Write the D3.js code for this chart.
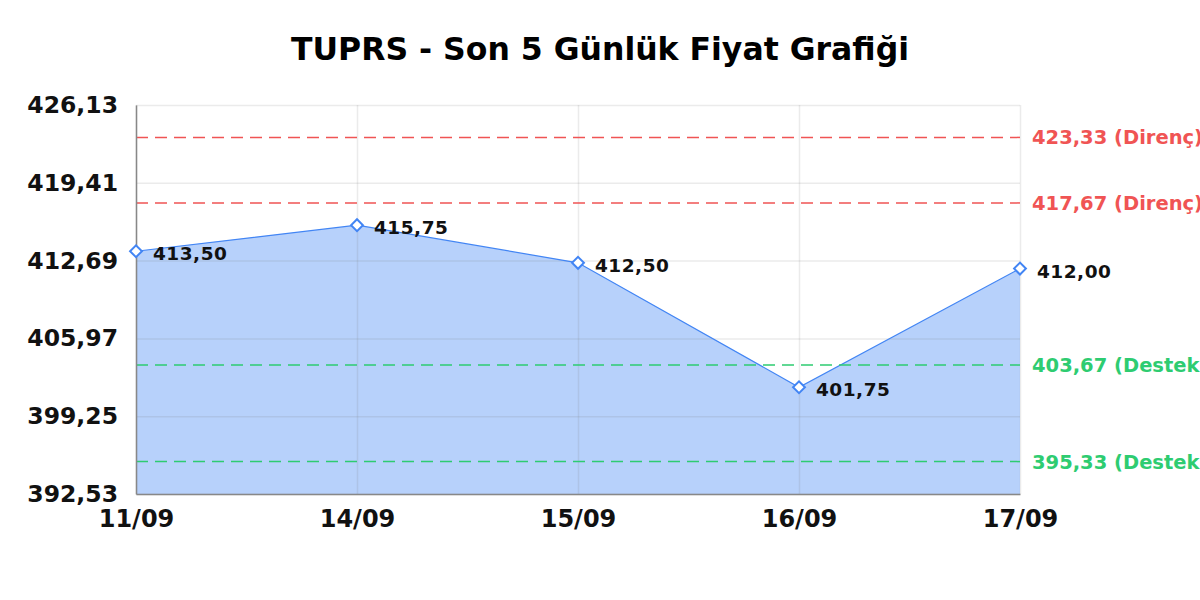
<!DOCTYPE html>
<html>
<head>
<meta charset="utf-8">
<script src="https://cdn.jsdelivr.net/npm/d3@7"></script>
<style>
  body { margin: 0; background: #fff; }
  svg { font-family: "DejaVu Sans", sans-serif; }
</style>
</head>
<body>
<div id="chart"></div>
<script>
/* DATA */
const dates = ["11/09", "14/09", "15/09", "16/09", "17/09"];
const prices = [413.50, 415.75, 412.50, 401.75, 412.00];
const yTicks = [392.53, 399.25, 405.97, 412.69, 419.41, 426.13];
const resistance = [423.33, 417.67];
const support = [403.67, 395.33];

const width = 1200,
  height = 600,
  margin = { top: 105, right: 180, bottom: 106, left: 136 };

const trFormat = d3.formatLocale({ decimal: ",", thousands: ".", grouping: [3], currency: ["", " TL"] }).format(".2f");

const svg = d3.select("#chart").append("svg")
  .attr("width", width)
  .attr("height", height);

// SCALES
const xScale = d3.scalePoint()
  .domain(dates)
  .range([margin.left, width - margin.right]);

const yScale = d3.scaleLinear()
  .domain([yTicks[0], yTicks[yTicks.length - 1]])
  .range([height - margin.bottom, margin.top]);

// title
svg.append("text")
  .attr("x", width / 2)
  .attr("y", 60)
  .attr("text-anchor", "middle")
  .style("font-size", "31.5px")
  .style("font-weight", "bold")
  .text("TUPRS - Son 5 Günlük Fiyat Grafiği");

// area + line
const area = d3.area()
  .x(d => xScale(d[0]))
  .y0(yScale.range()[0])
  .y1(d => yScale(d[1]));

const line = d3.line()
  .x(d => xScale(d[0]))
  .y(d => yScale(d[1]));

const pts = dates.map((d, i) => [d, prices[i]]);

svg.append("path")
  .datum(pts)
  .attr("d", area)
  .attr("fill", "rgba(66,133,244,0.38)");

// gridlines (drawn over the fill, faint)
svg.append("g")
  .attr("transform", `translate(${margin.left},0)`)
  .call(d3.axisLeft(yScale).tickValues(yTicks).tickSize(-(width - margin.left - margin.right)).tickFormat(""))
  .call(g => g.select(".domain").remove())
  .call(g => g.selectAll("line").attr("stroke", "rgba(120,120,120,0.15)").attr("stroke-width", 1.5));

svg.append("g")
  .attr("transform", `translate(0,${height - margin.bottom})`)
  .call(d3.axisBottom(xScale).tickSize(-(height - margin.top - margin.bottom)).tickFormat(""))
  .call(g => g.select(".domain").remove())
  .call(g => g.selectAll("line").attr("stroke", "rgba(120,120,120,0.15)").attr("stroke-width", 1.5));

svg.append("path")
  .datum(pts)
  .attr("d", line)
  .attr("fill", "none")
  .attr("stroke", "#4285f4")
  .attr("stroke-width", 1.2);

// level lines
const levels = resistance.map(v => ({ v, kind: "Direnç", color: "#f05454" }))
  .concat(support.map(v => ({ v, kind: "Destek", color: "#2ecc71" })));

svg.selectAll(".level")
  .data(levels)
  .join("line")
  .attr("class", "level")
  .attr("x1", margin.left)
  .attr("x2", width - margin.right)
  .attr("y1", d => yScale(d.v))
  .attr("y2", d => yScale(d.v))
  .attr("stroke", d => d.color)
  .attr("stroke-width", 1.5)
  .attr("stroke-dasharray", "12,7");

// labels run past the right edge, as in the original
svg.selectAll(".level-label")
  .data(levels)
  .join("text")
  .attr("class", "level-label")
  .attr("x", width - margin.right + 12)
  .attr("y", d => yScale(d.v) + 7)
  .attr("fill", d => d.color)
  .style("font-size", "19.5px")
  .style("font-weight", "bold")
  .text(d => `${trFormat(d.v)} (${d.kind})`);

// axes
const yAxis = svg.append("g")
  .attr("transform", `translate(${margin.left},0)`)
  .call(d3.axisLeft(yScale).tickValues(yTicks).tickSize(0).tickPadding(18).tickFormat(trFormat));
yAxis.select(".domain").attr("stroke", "#888").attr("stroke-width", 1.5);
yAxis.selectAll("text")
  .style("font-size", "23.5px")
  .style("font-weight", "bold")
  .style("font-family", "DejaVu Sans, sans-serif")
  .attr("fill", "#111");

const xAxis = svg.append("g")
  .attr("transform", `translate(0,${height - margin.bottom})`)
  .call(d3.axisBottom(xScale).tickSize(0).tickPadding(16));
xAxis.select(".domain").attr("stroke", "#888").attr("stroke-width", 1.5);
xAxis.selectAll("text")
  .style("font-size", "24px")
  .style("font-weight", "bold")
  .style("font-family", "DejaVu Sans, sans-serif")
  .attr("fill", "#111");

// markers
const diamond = d3.symbol().type(d3.symbolSquare).size(70);
svg.selectAll(".marker")
  .data(pts)
  .join("path")
  .attr("class", "marker")
  .attr("d", diamond)
  .attr("transform", d => `translate(${xScale(d[0])},${yScale(d[1])}) rotate(45)`)
  .attr("fill", "#fff")
  .attr("stroke", "#4285f4")
  .attr("stroke-width", 2);

// value labels
svg.selectAll(".val")
  .data(pts)
  .join("text")
  .attr("class", "val")
  .attr("x", d => xScale(d[0]) + 17)
  .attr("y", d => yScale(d[1]) + 9)
  .style("font-size", "18.5px")
  .style("font-weight", "bold")
  .style("letter-spacing", "0.5px")
  .attr("fill", "#111")
  .text(d => trFormat(d[1]));
</script>
</body>
</html>
